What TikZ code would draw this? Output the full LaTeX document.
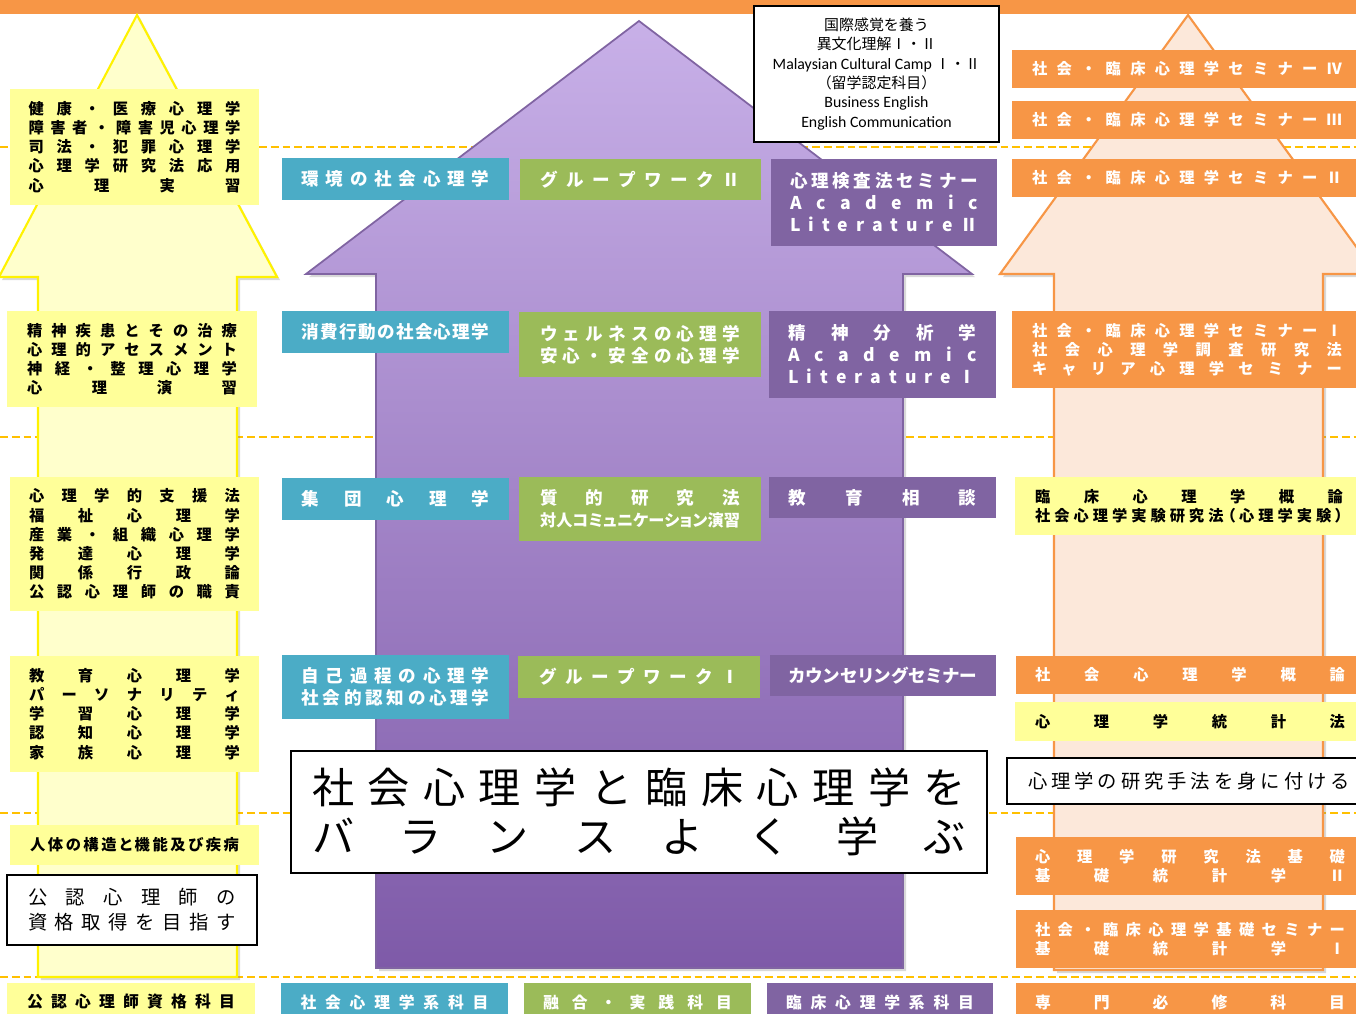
\documentclass[tikz,border=0pt]{standalone}
\usepackage{fontspec}
\newfontfamily\jp{Noto Sans CJK JP}
\newfontfamily\jpp{Noto Sans CJK JP}[RawFeature=+palt]
\newfontfamily\en{Carlito}
\usetikzlibrary{shadows}
\definecolor{korange}{HTML}{F79646}
\definecolor{kcyan}{HTML}{4BACC6}
\definecolor{kgreen}{HTML}{9BBB59}
\definecolor{kpurple}{HTML}{8064A2}
\definecolor{kyellow}{HTML}{FFFF99}
\definecolor{kdash}{HTML}{FFC000}
\definecolor{yarrow}{HTML}{FFFFCC}
\definecolor{parrowtop}{HTML}{C8B0E8}
\definecolor{parrowbot}{HTML}{7E5AA8}
\definecolor{oarrow}{HTML}{FCE8DA}
\def\kintou#1#2{\hbox to #1{\kintouA#2\kintouZ}}
\def\kintouA#1#2\kintouZ{#1\ifx\relax#2\relax\else\hfill\kintouA#2\kintouZ\fi}
\tikzset{
	kbox/.style={rectangle, inner sep=0pt, align=center},
	ybox/.style={kbox, fill=kyellow, font=\jp\bfseries\fontsize{8.7}{10.9}\selectfont},
	obox/.style={kbox, fill=korange, text=white, font=\jp\bfseries\fontsize{8.7}{10.9}\selectfont},
	cbox/.style={kbox, fill=kcyan, text=white, font=\jp\bfseries\fontsize{10}{12.5}\selectfont},
	gbox/.style={cbox, fill=kgreen},
	pbox/.style={cbox, fill=kpurple},
	wbox/.style={kbox, fill=white, draw=black, line width=1.2pt, font=\jp\fontsize{11}{14.2}\selectfont},
	tagbox/.style={kbox, minimum height=0.76cm, font=\jp\bfseries\fontsize{9}{11}\selectfont},
	dashline/.style={kdash, line width=1.1pt, dash pattern=on 4.5pt off 2.2pt},
	arrowshadow/.style={drop shadow={opacity=0.3, shadow xshift=0.06cm, shadow yshift=-0.06cm}}
}
\begin{document}
\begin{tikzpicture}[x=0.02cm, y=-0.02cm]
	\useasboundingbox (0,0) rectangle (1356,1014);
	\fill[white] (0,0) rectangle (1356,1014);
	\fill[korange] (0,-5) rectangle (1356,14);

	\draw[dashline] (0,147) -- (1356,147);
	\draw[dashline] (0,437) -- (1356,437);
	\draw[dashline] (0,813) -- (1356,813);
	\draw[dashline] (0,977) -- (1356,977);

	\draw[yellow, line width=1.2pt, fill=yarrow, arrowshadow] (137,15) -- (277,277) -- (237,277) -- (237,977) -- (38,977) -- (38,277) -- (-1,277) -- cycle;
	\draw[kpurple, line width=1pt, top color=parrowtop, bottom color=parrowbot, arrowshadow] (639,21) -- (972,274) -- (903,274) -- (903,968) -- (376,968) -- (376,274) -- (306,274) -- cycle;
	\draw[korange, line width=1.2pt, fill=oarrow, arrowshadow] (1188,15) -- (1376,274) -- (1323,274) -- (1323,970) -- (1054,970) -- (1054,274) -- (1000,274) -- cycle;

	\node[ybox, minimum width=4.98cm, minimum height=2.32cm] (kenko) at (134.5,147) {\kintou{4.24cm}{健康・医療心理学}\\\kintou{4.24cm}{障害者・障害児心理学}\\\kintou{4.24cm}{司法・犯罪心理学}\\\kintou{4.24cm}{心理学研究法応用}\\\kintou{4.24cm}{心理実習}};
	\node[ybox, minimum width=5cm, minimum height=1.92cm] (seishin) at (132,359) {\kintou{4.2cm}{精神疾患とその治療}\\\kintou{4.2cm}{心理的アセスメント}\\\kintou{4.2cm}{神経・整理心理学}\\\kintou{4.2cm}{心理演習}};
	\node[ybox, minimum width=4.98cm, minimum height=2.68cm] (shien) at (134.5,544) {\kintou{4.22cm}{心理学的支援法}\\\kintou{4.22cm}{福祉心理学}\\\kintou{4.22cm}{産業・組織心理学}\\\kintou{4.22cm}{発達心理学}\\\kintou{4.22cm}{関係行政論}\\\kintou{4.22cm}{公認心理師の職責}};
	\node[ybox, minimum width=4.98cm, minimum height=2.32cm] (kyoiku) at (134.5,714) {\kintou{4.22cm}{教育心理学}\\\kintou{4.22cm}{パーソナリティ}\\\kintou{4.22cm}{学習心理学}\\\kintou{4.22cm}{認知心理学}\\\kintou{4.22cm}{家族心理学}};
	\node[ybox, minimum width=4.98cm, minimum height=0.8cm] (jintai) at (134.5,845) {{\jpp\kintou{4.18cm}{人体の構造と機能及び疾病}}};
	\node[wbox, minimum width=5cm, minimum height=1.4cm] (mezasu) at (132,910) {\kintou{4.16cm}{公認心理師の}\\\kintou{4.16cm}{資格取得を目指す}};

	\node[cbox, minimum width=4.54cm, minimum height=0.84cm] (kankyo) at (395.5,179) {\kintou{3.76cm}{環境の社会心理学}};
	\node[cbox, minimum width=4.54cm, minimum height=0.84cm] (shohi) at (395.5,332) {{\jpp\kintou{3.76cm}{消費行動の社会心理学}}};
	\node[cbox, minimum width=4.54cm, minimum height=0.84cm] (shudan) at (395.5,499) {\kintou{3.76cm}{集団心理学}};
	\node[cbox, minimum width=4.54cm, minimum height=1.28cm] (jiko) at (395.5,687) {\kintou{3.76cm}{自己過程の心理学}\\\kintou{3.76cm}{社会的認知の心理学}};

	\node[gbox, minimum width=4.82cm, minimum height=0.82cm] (gwtwo) at (640.5,179.5) {\kintou{4cm}{グループワークⅡ}};
	\node[gbox, minimum width=4.84cm, minimum height=1.3cm] (wellness) at (640,344.5) {\kintou{4cm}{ウェルネスの心理学}\\\kintou{4cm}{安心・安全の心理学}};
	\node[gbox, minimum width=4.84cm, minimum height=1.28cm] (shitsuteki) at (640,509) {\kintou{4cm}{質的研究法}\\{\jpp\fontsize{9.2}{12.5}\selectfont\kintou{4cm}{対人コミュニケーション演習}}};
	\node[gbox, minimum width=4.84cm, minimum height=0.84cm] (gwone) at (639,677) {\kintou{4cm}{グループワークⅠ}};

	\node[pbox, minimum width=4.52cm, minimum height=1.74cm] (kensa) at (884,202.5) {\kintou{3.76cm}{心理検査法セミナー}\\\kintou{3.76cm}{Academic}\\\kintou{3.76cm}{LiteratureⅡ}};
	\node[pbox, minimum width=4.54cm, minimum height=1.74cm] (bunseki) at (882.5,354.5) {\kintou{3.76cm}{精神分析学}\\\kintou{3.76cm}{Academic}\\\kintou{3.76cm}{LiteratureⅠ}};
	\node[pbox, minimum width=4.54cm, minimum height=0.82cm] (sodan) at (882.5,497.5) {\kintou{3.76cm}{教育相談}};
	\node[pbox, minimum width=4.52cm, minimum height=0.82cm] (counsel) at (883,675.5) {{\jpp\kintou{3.76cm}{カウンセリングセミナー}}};

	\node[kbox, fill=white, draw=black, line width=1.2pt, minimum width=4.9cm, minimum height=2.72cm, font=\en\fontsize{9}{11}\selectfont] (kokusai) at (876.5,74) {{\jp\fontsize{8.5}{11}\selectfont 国際感覚を養う}\\{\jp\fontsize{8.5}{11}\selectfont 異文化理解Ⅰ・Ⅱ}\\Malaysian Cultural Camp {\jp\fontsize{8.5}{11}\selectfont Ⅰ・Ⅱ}\\{\jp\fontsize{8.5}{11}\selectfont （留学認定科目）}\\Business English\\English Communication};
	\node[wbox, minimum width=13.92cm, minimum height=2.44cm, font=\jp\fontsize{24}{28.3}\selectfont] (balance) at (639,812) {\kintou{13.08cm}{社会心理学と臨床心理学を}\\\kintou{13.08cm}{バランスよく学ぶ}};

	\node[obox, minimum width=7cm, minimum height=0.76cm] (semifour) at (1187,69) {\kintou{6.2cm}{社会・臨床心理学セミナーⅣ}};
	\node[obox, minimum width=7cm, minimum height=0.76cm] (semithree) at (1187,120) {\kintou{6.2cm}{社会・臨床心理学セミナーⅢ}};
	\node[obox, minimum width=7cm, minimum height=0.76cm] (semitwo) at (1187,178) {\kintou{6.2cm}{社会・臨床心理学セミナーⅡ}};
	\node[obox, minimum width=7cm, minimum height=1.54cm] (semione) at (1187,349.5) {\kintou{6.2cm}{社会・臨床心理学セミナーⅠ}\\\kintou{6.2cm}{社会心理学調査研究法}\\\kintou{6.2cm}{キャリア心理学セミナー}};
	\node[ybox, minimum width=6.96cm, minimum height=1.16cm] (rinsho) at (1189,506) {\kintou{6.16cm}{臨床心理学概論}\\{\jpp\kintou{6.16cm}{社会心理学実験研究法（心理学実験）}}};
	\node[obox, minimum width=6.96cm, minimum height=0.76cm] (shakaigairon) at (1190,675) {\kintou{6.2cm}{社会心理学概論}};
	\node[ybox, minimum width=7cm, minimum height=0.78cm] (tokei) at (1190,721.5) {\kintou{6.2cm}{心理学統計法}};
	\node[wbox, minimum width=7.28cm, minimum height=0.92cm] (shuho) at (1189,781) {\kintou{6.44cm}{心理学の研究手法を身に付ける}};
	\node[obox, minimum width=6.96cm, minimum height=1.16cm] (kenkyuho) at (1190,866) {\kintou{6.2cm}{心理学研究法基礎}\\\kintou{6.2cm}{基礎統計学Ⅱ}};
	\node[obox, minimum width=6.96cm, minimum height=1.16cm] (kisosemi) at (1190,939) {\kintou{6.2cm}{社会・臨床心理学基礎セミナー}\\\kintou{6.2cm}{基礎統計学Ⅰ}};

	\node[tagbox, fill=kyellow, minimum width=4.96cm] (shikakukamoku) at (131,1002) {\kintou{4.16cm}{公認心理師資格科目}};
	\node[tagbox, fill=kcyan, text=white, minimum width=4.54cm] (shakaikamoku) at (394.5,1002) {\kintou{3.76cm}{社会心理学系科目}};
	\node[tagbox, fill=kgreen, text=white, minimum width=4.54cm] (yugokamoku) at (637.5,1002) {\kintou{3.78cm}{融合・実践科目}};
	\node[tagbox, fill=kpurple, text=white, minimum width=4.52cm] (rinshokamoku) at (880,1002) {\kintou{3.76cm}{臨床心理学系科目}};
	\node[tagbox, fill=korange, text=white, minimum width=6.96cm] (hisshukamoku) at (1190,1002) {\kintou{6.2cm}{専門必修科目}};
\end{tikzpicture}
\end{document}
